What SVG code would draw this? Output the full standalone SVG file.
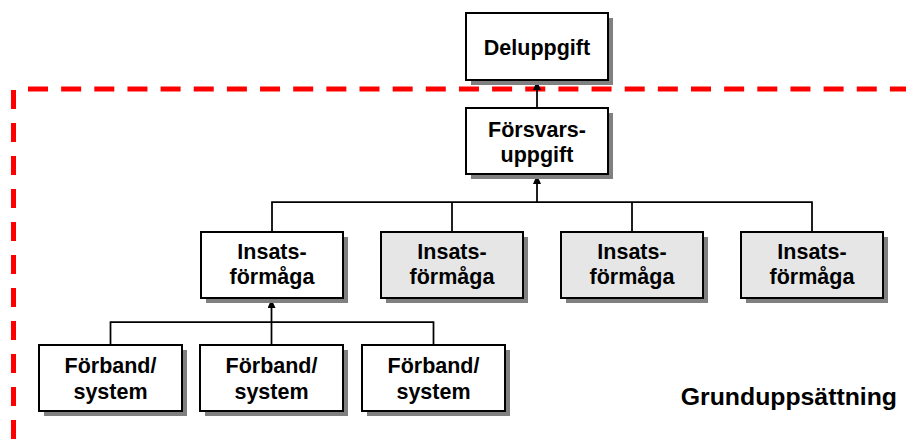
<svg xmlns="http://www.w3.org/2000/svg" width="906" height="445" viewBox="0 0 906 445">
<defs>
<style>
.box{stroke:#000;stroke-width:2}
.w{fill:#fff}
.g{fill:#e6e6e6}
.sh{fill:#808080}
.t{font-family:"Liberation Sans",Arial,sans-serif;font-weight:bold;font-size:21.5px;text-anchor:middle;fill:#000}
.c{stroke:#000;stroke-width:1.75;fill:none}
.red{stroke:#ff0000;stroke-width:5;fill:none}
</style>
<marker id="ah" markerUnits="userSpaceOnUse" markerWidth="8" markerHeight="10" refX="9" refY="4" orient="auto">
<path d="M0,0 L9,4 L0,8 z" fill="#000"/>
</marker>
</defs>
<rect width="906" height="445" fill="#fff"/>
<g id="boundary">
<line class="red" x1="28" y1="89" x2="906" y2="89" stroke-dasharray="20 13.15"/>
<line class="red" x1="13.5" y1="90" x2="13.5" y2="445" stroke-dasharray="19 14"/>
</g>
<g id="connectors">
<line class="c" x1="537" y1="108" x2="537" y2="81" marker-end="url(#ah)"/>
<line class="c" x1="537" y1="202" x2="537" y2="175" marker-end="url(#ah)"/>
<polyline class="c" points="272,232 272,202 812,202 812,232"/>
<line class="c" x1="452" y1="202" x2="452" y2="232"/>
<line class="c" x1="632" y1="202" x2="632" y2="232"/>
<polyline class="c" points="110.5,345 110.5,322 433.5,322 433.5,345"/>
<line class="c" x1="271.5" y1="345" x2="271.5" y2="299" marker-end="url(#ah)"/>
</g>
<g id="deluppgift">
<rect class="sh" x="471" y="18" width="142" height="67"/>
<rect class="box w" x="466" y="13" width="142" height="67"/>
<text class="t" x="537" y="55">Deluppgift</text>
</g>
<g id="forsvarsuppgift">
<rect class="sh" x="471" y="113" width="142" height="66"/>
<rect class="box w" x="466" y="108" width="142" height="66"/>
<text class="t" x="537" y="137">Försvars-</text>
<text class="t" x="537" y="162">uppgift</text>
</g>
<g id="insats1">
<rect class="sh" x="206" y="237" width="142" height="66"/>
<rect class="box w" x="201" y="232" width="142" height="66"/>
<text class="t" x="272" y="259">Insats-</text>
<text class="t" x="272" y="284">förmåga</text>
</g>
<g id="insats2">
<rect class="sh" x="386" y="237" width="142" height="66"/>
<rect class="box g" x="381" y="232" width="142" height="66"/>
<text class="t" x="452" y="259">Insats-</text>
<text class="t" x="452" y="284">förmåga</text>
</g>
<g id="insats3">
<rect class="sh" x="566" y="237" width="142" height="66"/>
<rect class="box g" x="561" y="232" width="142" height="66"/>
<text class="t" x="632" y="259">Insats-</text>
<text class="t" x="632" y="284">förmåga</text>
</g>
<g id="insats4">
<rect class="sh" x="746" y="237" width="142" height="66"/>
<rect class="box g" x="741" y="232" width="142" height="66"/>
<text class="t" x="812" y="259">Insats-</text>
<text class="t" x="812" y="284">förmåga</text>
</g>
<g id="forband1">
<rect class="sh" x="44" y="350" width="143" height="66"/>
<rect class="box w" x="39" y="345" width="143" height="66"/>
<text class="t" x="110.5" y="373">Förband/</text>
<text class="t" x="110.5" y="399">system</text>
</g>
<g id="forband2">
<rect class="sh" x="205" y="350" width="143" height="66"/>
<rect class="box w" x="200" y="345" width="143" height="66"/>
<text class="t" x="271.5" y="373">Förband/</text>
<text class="t" x="271.5" y="399">system</text>
</g>
<g id="forband3">
<rect class="sh" x="367" y="350" width="143" height="66"/>
<rect class="box w" x="362" y="345" width="143" height="66"/>
<text class="t" x="433.5" y="373">Förband/</text>
<text class="t" x="433.5" y="399">system</text>
</g>
<g id="label">
<text x="897" y="405" font-family="'Liberation Sans',Arial,sans-serif" font-weight="bold" font-size="24.8" text-anchor="end">Grunduppsättning</text>
</g>
</svg>
